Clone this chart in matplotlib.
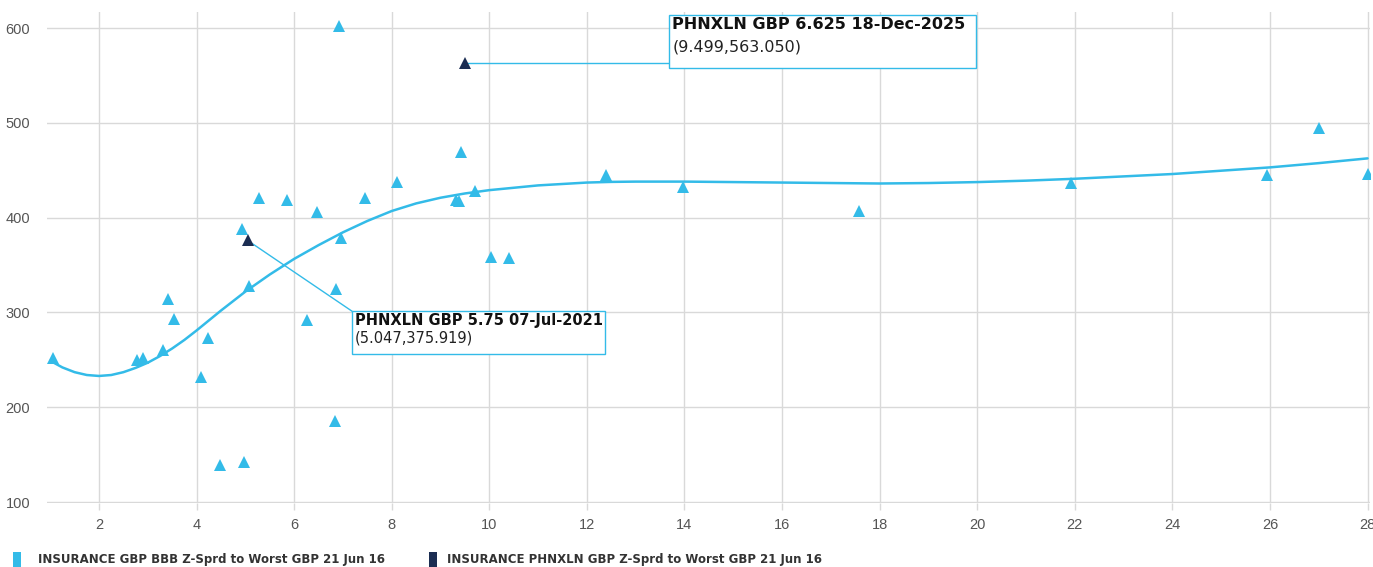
import matplotlib

matplotlib.use("Agg")

import matplotlib.pyplot as plt
from matplotlib.patches import Rectangle

# Sector scatter: maturity (years) vs Z-spread to worst
sector_years = [1.05, 2.77, 2.91, 3.32, 3.42, 3.54, 4.09, 4.24, 4.48, 4.94, 4.98,
                5.08, 5.28, 5.85, 6.27, 6.46, 6.84, 6.85, 6.92, 6.97, 7.45, 8.10,
                9.32, 9.38, 9.42, 9.70, 10.03, 10.40, 12.40, 13.97, 17.58, 21.92,
                25.93, 27.00, 28.00]
sector_spread = [252, 250, 252, 260, 314, 293, 232, 273, 139, 388, 142,
                 328, 421, 419, 292, 406, 185, 325, 602, 378, 421, 438,
                 419, 418, 469, 428, 358, 357, 445, 432, 407, 437,
                 445, 495, 446]

# Issuer bonds
issuer_years = [5.047, 9.499]
issuer_spread = [375.919, 563.050]
issuer_names = ["PHNXLN GBP 5.75 07-Jul-2021", "PHNXLN GBP 6.625 18-Dec-2025"]

# Fitted sector curve
curve_years = [1.0, 1.25, 1.5, 1.75, 2.0, 2.25, 2.5, 2.75, 3.0, 3.25, 3.5, 3.75,
               4.0, 4.5, 5.0, 5.5, 6.0, 6.5, 7.0, 7.5, 8.0, 8.5, 9.0, 9.5,
               10.0, 10.5, 11.0, 11.5, 12.0, 12.5, 13.0, 14.0, 15.0, 16.0, 17.0,
               18.0, 19.0, 20.0, 21.0, 22.0, 23.0, 24.0, 25.0, 26.0, 27.0, 28.0]
curve_spread = [249, 242, 237, 234, 233, 234, 237, 241.5, 247, 254, 262, 271,
                281, 302, 322, 340, 356.5, 371, 384.5, 396.5, 407, 415, 421, 425.5,
                429, 431.5, 434, 435.5, 437, 437.7, 438, 438, 437.5, 437, 436.5,
                436, 436.5, 437.5, 439, 441, 443.5, 446, 449.5, 453, 457.5, 462.5]

x_ticks = list(range(2, 29, 2))
y_ticks = [100, 200, 300, 400, 500, 600]
legend_labels = ["INSURANCE GBP BBB Z-Sprd to Worst GBP 21 Jun 16",
                 "INSURANCE PHNXLN GBP Z-Sprd to Worst GBP 21 Jun 16"]

LIGHT = "#33bbe8"
DARK = "#1b2d52"
GRID = "#d9d9d9"

W, H = 1373, 567
fig = plt.figure(figsize=(W / 100, H / 100), dpi=100)
ax = fig.add_axes([47 / W, 1 - 503 / H, (1370 - 47) / W, (503 - 12) / H])

ax.set_xlim(0.934, 28.05)
ax.set_ylim(99, 616.9)
ax.set_xticks(x_ticks)
ax.set_yticks(y_ticks)
ax.grid(True, color=GRID, linewidth=1.0)
ax.set_axisbelow(True)
for s in ax.spines.values():
    s.set_visible(False)
ax.tick_params(axis="x", length=5, width=1.0, color=GRID, pad=6,
               labelsize=10.5, labelcolor="#555555")
ax.tick_params(axis="y", length=0, pad=12, labelsize=10.5, labelcolor="#555555")
for lab in ax.get_xticklabels() + ax.get_yticklabels():
    lab.set_family("Liberation Sans")

ax.plot(curve_years, curve_spread, color=LIGHT, linewidth=1.8, zorder=3,
        solid_capstyle="round", solid_joinstyle="round")
ax.plot(sector_years, sector_spread, linestyle="none", marker="^",
        markersize=8.5, color=LIGHT, markeredgewidth=0, zorder=4)
ax.plot(issuer_years, issuer_spread, linestyle="none", marker="^",
        markersize=8.5, color=DARK, markeredgewidth=0, zorder=6)

# callout boxes (data coords: x0, x1, y_bottom, y_top) and text sizes
boxes = [(7.18, 12.37, 256.0, 301.5), (13.68, 19.97, 557.8, 613.7)]
title_sizes = [10.5, 11.5]
line_gaps = [19.0, 23.5]
anchors = [(7.18, 301.5), (13.68, 563.05)]
for (bx0, bx1, by0, by1), name, px, py, fs, gap, anc in zip(
        boxes, issuer_names, issuer_years, issuer_spread, title_sizes,
        line_gaps, anchors):
    ax.plot([px, anc[0]], [py, anc[1]], color=LIGHT, linewidth=1.0, zorder=5)
    ax.add_patch(Rectangle((bx0, by0), bx1 - bx0, by1 - by0, facecolor="white",
                           edgecolor=LIGHT, linewidth=1.0, zorder=7))
    ax.text(bx0 + 0.07, by1 - 2.0, name, fontsize=fs, fontweight="bold",
            family="DejaVu Sans", color="#111111", va="top", ha="left", zorder=8)
    ax.text(bx0 + 0.07, by1 - 2.0 - gap, f"({px:.3f},{py:.3f})", fontsize=fs,
            family="DejaVu Sans", color="#222222", va="top", ha="left", zorder=8)

# legend along the bottom
for lab, col, sq_x, tx_x in zip(legend_labels, [LIGHT, DARK], [13, 429], [38, 447]):
    fig.add_artist(Rectangle((sq_x / W, 0), 8 / W, 15 / H, facecolor=col,
                             edgecolor="none", transform=fig.transFigure))
    fig.text(tx_x / W, 1 - 559 / H, lab, fontsize=8.5, fontweight="bold",
             family="DejaVu Sans", color="#333333", va="center", ha="left")

fig.savefig("out.png", dpi=100)
